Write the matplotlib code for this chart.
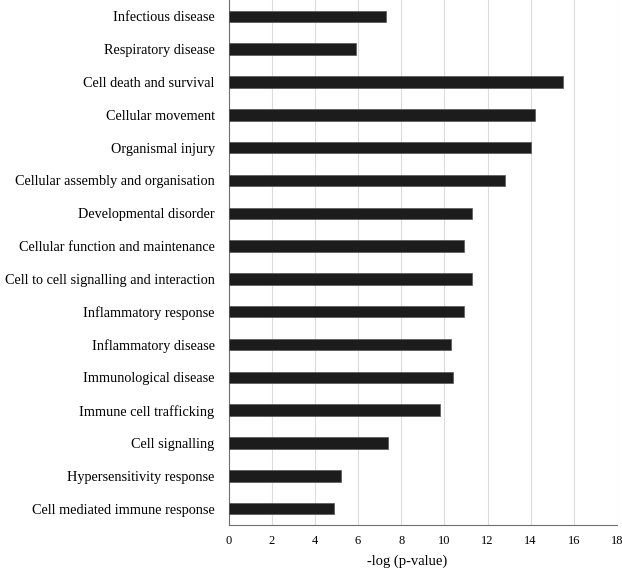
import matplotlib
matplotlib.use("Agg")
import matplotlib.pyplot as plt

categories = [
    "Infectious disease",
    "Respiratory disease",
    "Cell death and survival",
    "Cellular movement",
    "Organismal injury",
    "Cellular assembly and organisation",
    "Developmental disorder",
    "Cellular function and maintenance",
    "Cell to cell signalling and interaction",
    "Inflammatory response",
    "Inflammatory disease",
    "Immunological disease",
    "Immune cell trafficking",
    "Cell signalling",
    "Hypersensitivity response",
    "Cell mediated immune response",
]
values = [7.3, 5.9, 15.5, 14.2, 14.0, 12.8, 11.3, 10.9, 11.3, 10.9, 10.3, 10.4, 9.8, 7.4, 5.2, 4.9]
xticks = [0, 2, 4, 6, 8, 10, 12, 14, 16, 18]
xlabel = "-log (p-value)"

plt.rcParams['font.family'] = ['Liberation Serif', 'DejaVu Serif']

fig = plt.figure(figsize=(6.22, 5.71), dpi=100)
ax = fig.add_axes([228.5 / 622, 46 / 571, 388.5 / 622, 525 / 571])

ypos = list(range(len(categories)))
ax.barh(ypos, values, height=0.35, color="#1c1c1c", edgecolor="#555555", linewidth=0.5, zorder=3)
ax.set_ylim(len(categories) - 0.5, -0.5)
ax.set_xlim(0, 18)
ax.set_xticks(xticks)
ax.set_xticklabels([str(t) for t in xticks], fontsize=9)
ax.set_yticks(ypos)
ax.set_yticklabels(categories, fontsize=10.3)
ax.tick_params(axis='both', length=0)
ax.tick_params(axis='x', pad=7)
ax.tick_params(axis='y', pad=10)
ax.grid(axis='x', color="#dcdcdc", linewidth=0.8, zorder=0)
for s in ['top', 'right']:
    ax.spines[s].set_visible(False)
ax.spines['left'].set_color("#6e6e6e")
ax.spines['bottom'].set_color("#6e6e6e")
ax.set_xlabel(xlabel, fontsize=10.5)
ax.xaxis.set_label_coords(0.46, -36 / 525)
ax.xaxis.label.set_verticalalignment('center')

fig.savefig("out.png", dpi=100)
